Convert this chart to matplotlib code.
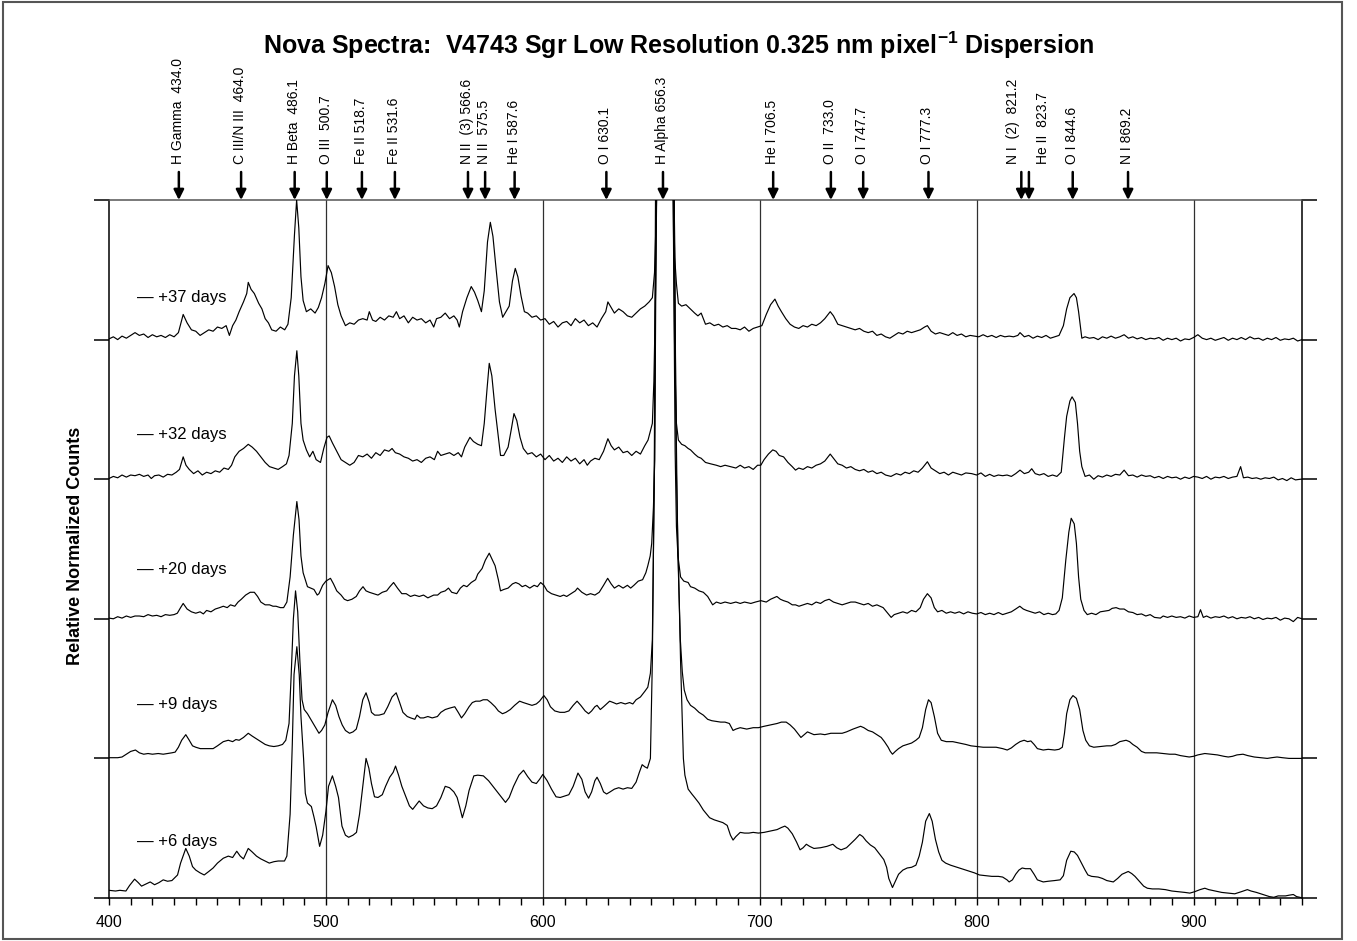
import numpy as np
import matplotlib
matplotlib.use("Agg")
import matplotlib.pyplot as plt
from matplotlib.patches import Rectangle
from matplotlib.ticker import MultipleLocator, FixedLocator, NullFormatter
import matplotlib.transforms as mtransforms

plt.rcParams['font.family'] = ['Liberation Sans', 'DejaVu Sans']
plt.rcParams['mathtext.fontset'] = 'custom'
plt.rcParams['mathtext.rm'] = 'Liberation Sans'
plt.rcParams['mathtext.bf'] = 'Liberation Sans:bold'

# ---------------- data ----------------
epochs = ['+37 days', '+32 days', '+20 days', '+9 days', '+6 days']

line_names = ['H Gamma  434.0', 'C III/N III  464.0', 'H Beta  486.1', 'O III  500.7',
              'Fe II 518.7', 'Fe II 531.6', 'N II  (3) 566.6', 'N II  575.5', 'He I 587.6',
              'O I 630.1', 'H Alpha 656.3', 'He I 706.5', 'O II  733.0', 'O I 747.7',
              'O I 777.3', 'N I  (2)  821.2', 'He II  823.7', 'O I 844.6', 'N I 869.2']
# wavelengths at which the marker arrows are drawn
arrow_wl = [432.2, 460.9, 485.6, 500.4, 516.6, 531.8, 565.5, 573.4, 587.0, 629.3, 655.4,
            706.2, 732.8, 747.7, 777.8, 820.6, 824.1, 844.3, 869.8]

x_ticks = [400, 500, 600, 700, 800, 900]

# spectra: (wavelength nm, relative counts above each trace's baseline)
spec_37 = [(400,0.005),(402,0.02),(404,0.0),(406,0.025),(408,0.01),(410,0.03),(412,0.05),(414,0.03),
 (416,0.04),(418,0.015),(420,0.035),(422,0.02),(424,0.03),(426,0.015),(428,0.035),(430,0.02),(432,0.05),
 (434.2,0.18),(436,0.12),(438,0.07),(440,0.06),(442,0.03),(444,0.05),(446,0.07),(448,0.06),(450,0.09),
 (452,0.08),(454,0.1),(455.5,0.03),(457,0.1),(458.5,0.14),(460,0.2),(462,0.27),(463.5,0.33),(464.2,0.41),
 (465.5,0.36),(467,0.33),(469,0.26),(470.5,0.22),(472,0.15),(473.5,0.12),(475,0.07),(477,0.06),(479,0.09),
 (481,0.07),(482.5,0.11),(484,0.3),(485.5,0.75),(486.5,1.0),(487.5,0.8),(488.5,0.45),(489.5,0.28),(491,0.2),
 (493,0.22),(495,0.19),(496.5,0.23),(498,0.3),(499.5,0.4),(501,0.53),(502.5,0.48),(504,0.38),(505.5,0.25),
 (507,0.17),(509,0.1),(511,0.12),(513,0.11),(515,0.14),(517,0.15),(519,0.14),(520,0.2),(521.5,0.14),
 (523,0.13),(525,0.16),(527,0.14),(529,0.17),(531,0.16),(532.5,0.2),(534,0.15),(536,0.17),(538,0.12),
 (540,0.16),(542,0.14),(544,0.15),(546,0.12),(548,0.14),(549.7,0.09),(551,0.15),(553,0.16),(555,0.19),
 (557,0.15),(559,0.17),(560.5,0.14),(561.5,0.09),(563,0.2),(565,0.3),(567,0.38),(568.5,0.34),(570,0.28),
 (571.7,0.2),(573,0.35),(574.5,0.7),(575.8,0.84),(577,0.74),(578.5,0.5),(580,0.27),(581.5,0.16),(583,0.2),
 (584.5,0.24),(586,0.42),(587.3,0.51),(588.5,0.45),(590,0.31),(591.5,0.2),(593,0.19),(595,0.16),(597,0.17),
 (599,0.14),(601,0.15),(603,0.11),(605,0.13),(607,0.09),(609,0.12),(611,0.13),(613,0.1),(615,0.15),
 (617,0.12),(619,0.14),(621,0.1),(623,0.12),(625,0.09),(627,0.15),(629,0.2),(630,0.27),(631.5,0.23),
 (633,0.19),(635,0.22),(637,0.2),(639,0.17),(641,0.16),(643,0.19),(645,0.22),(647,0.24),(649,0.27),
 (650.5,0.3),(651.5,0.48),(652.3,0.9),(653.2,1.6),(654.5,3.0),(656.3,6.0),(658,3.0),(659.5,1.6),
 (660.3,1.0),(660.8,0.59),(661.6,0.4),(662.5,0.26),(664,0.24),(666,0.25),(668,0.22),(670,0.19),
 (671.5,0.17),(673,0.19),(675,0.11),(677,0.12),(679,0.1),(681,0.11),(683,0.09),(685,0.1),(687,0.08),
 (689,0.08),(691,0.07),(693,0.09),(695,0.06),(697,0.08),(699,0.09),(701,0.1),(703,0.18),(705,0.25),
 (707,0.29),(708.5,0.24),(710,0.2),(712,0.15),(714,0.11),(716,0.09),(718,0.08),(720,0.1),(722,0.09),
 (724,0.11),(726,0.1),(728,0.12),(730,0.15),(732.5,0.2),(734,0.17),(736,0.11),(738,0.1),(740,0.09),
 (742,0.08),(744,0.07),(746,0.08),(748,0.06),(750,0.05),(752,0.06),(754,0.03),(756,0.04),(758,0.02),
 (760,0.01),(762,0.03),(764,0.05),(766,0.04),(768,0.06),(770,0.05),(772,0.06),(774,0.07),(776,0.09),
 (777.3,0.1),(779,0.06),(781,0.04),(783,0.05),(785,0.04),(787,0.03),(789,0.05),(791,0.03),(793,0.04),
 (795,0.02),(797,0.03),(799,0.025),(801,0.02),(803,0.035),(805,0.02),(807,0.03),(809,0.015),(811,0.03),
 (813,0.02),(815,0.025),(817,0.02),(819,0.03),(820,0.05),(822,0.02),(824,0.03),(826,0.01),(828,0.025),
 (830,0.015),(832,0.03),(834,0.01),(836,0.02),(838,0.03),(840,0.1),(841.5,0.22),(843,0.3),(844.9,0.33),
 (846,0.3),(847,0.2),(848.5,0.01),(850,0.02),(852,0.01),(854,0.015),(856,0.0),(858,0.02),(860,0.01),
 (862,0.025),(864,0.01),(866,0.02),(868,0.035),(870,0.01),(872,0.02),(874,0.005),(876,0.015),(878,0.0),
 (880,0.01),(882,0.005),(884,0.015),(886,-0.005),(888,0.01),(890,0.0),(892,0.01),(894,-0.01),(896,0.005),
 (898,0.0),(900,0.015),(902,0.035),(904,0.01),(906,0.0),(908,0.01),(910,-0.005),(912,0.005),(914,0.015),
 (916,-0.005),(918,0.01),(920,0.0),(922,0.015),(924,0.0),(926,0.02),(928,0.005),(930,0.01),(932,-0.005),
 (934,0.01),(936,0.0),(938,0.015),(940,-0.005),(942,0.005),(944,0.0),(946,0.01),(948,-0.01),(950,0.0)]

spec_32 = [(400,0.005),(402,0.02),(404,0.01),(406,0.03),(408,0.015),(410,0.03),(412,0.025),(414,0.035),
 (416,0.02),(418,0.03),(419.5,0.005),(421,0.025),(423,0.03),(425,0.015),(427,0.035),(429,0.03),(431,0.05),
 (432.5,0.07),(434.2,0.16),(435.5,0.1),(437,0.07),(439,0.04),(441,0.06),(443,0.03),(445,0.05),(447,0.04),
 (449,0.06),(451,0.05),(453,0.08),(455,0.07),(456.5,0.1),(458,0.16),(460,0.2),(462,0.22),(464.2,0.25),
 (466,0.23),(468,0.2),(470,0.16),(472,0.12),(474,0.09),(476,0.08),(478,0.07),(480,0.09),(481.8,0.11),
 (483,0.17),(484.5,0.4),(485.5,0.74),(486.6,0.92),(487.5,0.74),(488.5,0.4),(489.5,0.28),(491,0.21),
 (492.5,0.16),(494,0.2),(495.5,0.14),(497.5,0.12),(499,0.22),(500.5,0.3),(501.5,0.31),(503,0.26),(505,0.2),
 (507,0.14),(509,0.12),(511,0.1),(513,0.12),(515,0.17),(517,0.16),(519,0.18),(521,0.15),(523,0.19),
 (525,0.17),(527,0.21),(529,0.2),(530.5,0.22),(532,0.19),(534,0.18),(536,0.16),(538,0.15),(540,0.13),
 (542,0.14),(544,0.12),(546,0.15),(548,0.16),(550,0.14),(551.5,0.2),(553,0.17),(555,0.18),(557,0.19),
 (559,0.17),(561,0.19),(562.5,0.16),(564,0.23),(566.4,0.3),(568,0.27),(570,0.25),(571.7,0.24),(573,0.4),
 (574.3,0.65),(575.3,0.83),(576.5,0.74),(578,0.5),(579.5,0.3),(580.5,0.17),(582,0.17),(584,0.23),
 (585.5,0.36),(586.7,0.47),(588,0.42),(589.5,0.3),(591,0.22),(593,0.18),(595,0.19),(597,0.16),(599,0.18),
 (601,0.14),(603,0.17),(605,0.13),(607,0.15),(609,0.12),(611,0.16),(613,0.13),(615,0.15),(617,0.11),
 (619,0.14),(620.5,0.1),(622,0.13),(624,0.15),(626,0.14),(628,0.2),(630,0.29),(631.5,0.24),(633,0.21),
 (635,0.23),(637,0.19),(639,0.2),(641,0.17),(643,0.2),(645,0.18),(647,0.24),(648.5,0.28),(650.5,0.4),
 (651.2,0.7),(652,1.35),(652.6,2.2),(654,5.0),(656.3,8.0),(658.5,5.0),(660,2.2),(660.8,0.88),(661.6,0.4),
 (662.5,0.28),(664,0.25),(665.5,0.24),(667,0.22),(668.1,0.21),(670,0.18),(671.5,0.16),(673,0.15),
 (675,0.12),(677.4,0.11),(680,0.1),(682,0.09),(684,0.1),(686.6,0.09),(689,0.08),(691,0.1),(693,0.08),
 (695,0.09),(697,0.07),(699,0.1),(700.5,0.1),(702,0.14),(704,0.18),(706,0.21),(707.5,0.2),(709,0.17),
 (711,0.16),(713,0.12),(715,0.09),(716.5,0.065),(718,0.08),(720,0.07),(722,0.09),(724,0.08),(726,0.1),
 (728,0.11),(730,0.13),(732.5,0.18),(734,0.15),(736,0.11),(738,0.1),(740,0.08),(742,0.09),(744,0.07),
 (746,0.06),(748,0.07),(750,0.05),(752,0.06),(754,0.04),(756,0.05),(758,0.03),(760.5,0.02),(763,0.04),
 (765,0.03),(767,0.05),(769,0.04),(771,0.06),(773,0.05),(775,0.08),(777.3,0.125),(779,0.08),(781,0.06),
 (783,0.04),(785,0.05),(787,0.03),(789,0.05),(791,0.04),(793,0.03),(795,0.045),(797.7,0.04),(800,0.03),
 (802,0.045),(804,0.02),(806,0.035),(808,0.02),(810,0.03),(812,0.025),(814,0.03),(816,0.02),(818,0.04),
 (820,0.065),(822,0.04),(824,0.05),(825.4,0.075),(827,0.04),(829,0.03),(831,0.04),(833,0.02),(835,0.03),
 (837,0.02),(839,0.05),(840.5,0.3),(841.5,0.45),(843,0.56),(844,0.59),(845.5,0.55),(846.5,0.4),
 (847.5,0.2),(848.5,0.09),(850,0.02),(852,0.03),(854,0.0),(856,0.025),(858,0.015),(860,0.03),(862,0.02),
 (864,0.035),(866,0.03),(868,0.065),(870,0.025),(872,0.03),(874,0.015),(876,0.03),(878,0.02),(880,0.025),
 (882,0.01),(884,0.02),(886,0.005),(888,0.02),(890,0.01),(892,0.015),(894,0.0),(896,0.015),(898,0.005),
 (900,0.02),(902,0.015),(904,0.005),(906,0.02),(908,0.0),(910,0.015),(912,0.01),(914,0.02),(916,0.005),
 (918,0.015),(920,0.02),(921.7,0.09),(923,0.01),(925,0.015),(927,0.005),(929,0.01),(931,0.0),(933,0.01),
 (935,0.005),(937,0.015),(939,-0.005),(941,0.005),(943,-0.01),(945,0.01),(947,-0.005),(949.4,0.0),(950,0.0)]

spec_20 = [(400,0.005),(402,0.0),(404,0.015),(406,0.005),(408,0.02),(410,0.01),(412,0.02),(414,0.02),
 (416,0.015),(418,0.03),(420,0.02),(422,0.025),(424,0.015),(426,0.03),(428,0.025),(430,0.03),(431.5,0.04),
 (433,0.08),(434.2,0.11),(436,0.07),(438,0.05),(440,0.04),(442,0.05),(443.5,0.035),(445,0.06),(447,0.05),
 (449,0.07),(451,0.08),(452.7,0.09),(454.5,0.08),(456,0.1),(458,0.09),(459.5,0.12),(461,0.14),(463,0.17),
 (465.1,0.19),(467,0.19),(468.5,0.16),(470,0.12),(472,0.1),(474,0.1),(475.6,0.09),(477,0.09),(479,0.08),
 (480.5,0.08),(482,0.12),(483.5,0.3),(485,0.6),(486.6,0.84),(487.6,0.71),(488.5,0.45),(489.5,0.33),
 (491.5,0.23),(493,0.22),(494.5,0.21),(496,0.17),(496.8,0.18),(498.5,0.24),(500,0.27),(502.1,0.29),
 (503.5,0.25),(505,0.2),(507,0.17),(508.5,0.14),(510,0.13),(512,0.14),(514,0.16),(515.5,0.2),(517.1,0.23),
 (518.5,0.2),(520,0.19),(522,0.18),(524,0.17),(526,0.19),(528,0.2),(529.5,0.23),(531.2,0.26),(533,0.22),
 (535,0.18),(537,0.18),(539,0.16),(540.9,0.17),(543,0.16),(545,0.17),(547,0.15),(549.7,0.17),(551.5,0.17),
 (553,0.19),(555,0.2),(556.5,0.22),(558,0.19),(560.3,0.18),(562,0.22),(563.5,0.24),(565,0.23),(567,0.26),
 (569,0.28),(570,0.32),(572,0.36),(573.5,0.42),(575.3,0.47),(576.5,0.43),(578,0.38),(579.5,0.28),
 (580.5,0.2),(582,0.21),(584,0.22),(586,0.25),(587.5,0.26),(589,0.25),(590.5,0.23),(592,0.24),(594,0.22),
 (596,0.24),(597.5,0.23),(599,0.26),(600.5,0.24),(602,0.2),(604,0.18),(606,0.17),(608,0.16),(609.6,0.17),
 (611,0.16),(613,0.18),(615,0.2),(616,0.22),(618,0.19),(620.2,0.17),(622,0.18),(624,0.17),(626,0.19),
 (628,0.24),(629.9,0.29),(631.5,0.25),(633,0.22),(635,0.24),(637,0.22),(639,0.24),(640.5,0.22),(642,0.24),
 (644,0.27),(646,0.28),(647.5,0.33),(648.4,0.38),(649.5,0.45),(650.2,0.54),(651,0.8),(651.6,1.14),
 (652.4,3.2),(654,6.0),(656.3,9.0),(658.5,6.0),(660,3.2),(661,1.2),(661.6,0.66),(662.3,0.45),(663.5,0.3),
 (665,0.27),(667,0.26),(668.1,0.23),(670,0.22),(672,0.2),(674,0.19),(676,0.16),(678.3,0.1),(680,0.12),
 (682,0.11),(684,0.12),(686.6,0.11),(689,0.12),(691,0.11),(693,0.12),(695.9,0.11),(698,0.12),(700.5,0.13),
 (703,0.12),(705,0.14),(707.9,0.16),(709.5,0.14),(711,0.13),(713,0.12),(715,0.1),(716.5,0.1),(718.1,0.09),
 (720,0.1),(722,0.11),(724,0.1),(726,0.12),(728,0.11),(730,0.13),(732,0.14),(734,0.12),(736,0.11),
 (738,0.1),(740,0.11),(742,0.12),(744,0.12),(746,0.11),(748,0.1),(750,0.11),(752,0.09),(754,0.1),
 (756.9,0.08),(758.5,0.05),(760.6,0.01),(762,0.03),(764,0.04),(766,0.05),(768,0.04),(770,0.06),(772,0.05),
 (774,0.08),(775.5,0.14),(777.3,0.18),(779,0.15),(780.5,0.08),(782,0.05),(784,0.06),(786,0.04),(788,0.05),
 (790,0.04),(792,0.05),(794,0.035),(796,0.05),(798,0.04),(800,0.035),(802,0.045),(804,0.03),(806,0.04),
 (808,0.03),(810,0.045),(812,0.03),(814,0.04),(816,0.05),(818,0.07),(819.9,0.09),(821.5,0.07),(823,0.06),
 (825,0.05),(827,0.04),(829,0.05),(831,0.03),(833,0.04),(835,0.03),(836.5,0.035),(838,0.06),(839.5,0.15),
 (841.1,0.42),(842.5,0.62),(843.6,0.72),(845,0.68),(846,0.54),(847,0.3),(848,0.14),(849.5,0.06),(851,0.03),
 (853,0.04),(855,0.03),(857,0.05),(859,0.055),(861,0.06),(862.5,0.075),(864.3,0.08),(866,0.07),(868,0.07),
 (870,0.05),(872,0.045),(874,0.03),(876,0.035),(878,0.02),(880,0.03),(882,0.01),(884.7,0.005),(886,0.02),
 (888,0.01),(890,0.02),(892,0.01),(894,0.015),(896,0.005),(898,0.02),(900,0.01),(902,0.015),(903.2,0.065),
 (904.5,0.01),(906,0.02),(908,0.005),(910,0.015),(912,0.01),(914,0.02),(916,0.005),(918,0.015),(920,0.0),
 (922,0.01),(924,0.005),(926,0.015),(928,0.0),(930,0.01),(932,-0.005),(934,0.005),(936,0.0),(938,0.01),
 (940,-0.01),(942,0.005),(944,0.0),(946,-0.02),(948,0.01),(950,0.0)]

spec_9 = [(400,0.005),(404,0.005),(406,0.01),(408,0.03),(410,0.05),(412.2,0.06),(414,0.04),(416,0.03),
 (418,0.035),(420,0.03),(422.7,0.035),(425,0.03),(427,0.035),(429,0.04),(430.5,0.045),(432,0.08),
 (433.5,0.13),(435.4,0.17),(437,0.13),(438.5,0.09),(440,0.08),(442.1,0.07),(445,0.07),(448,0.07),(450,0.09),
 (452.7,0.12),(455,0.13),(457,0.12),(458.5,0.135),(460,0.13),(462,0.15),(464.2,0.18),(466,0.16),(468,0.14),
 (470,0.12),(472,0.1),(473.9,0.09),(476,0.085),(478,0.09),(480,0.1),(481.5,0.13),(483,0.25),(484,0.6),
 (485,1.0),(486,1.2),(487,1.05),(488,0.7),(489,0.42),(490,0.35),(491.5,0.32),(493,0.28),(494.5,0.24),
 (496,0.2),(496.8,0.18),(498,0.2),(499.5,0.24),(501,0.33),(503,0.42),(504.5,0.38),(506,0.3),(507.5,0.24),
 (509,0.2),(510.9,0.18),(512.5,0.19),(514,0.21),(515.5,0.3),(517,0.42),(518.5,0.47),(520,0.4),(521,0.33),
 (522.5,0.31),(524.5,0.31),(526.8,0.32),(528.5,0.37),(530.5,0.44),(532.4,0.47),(534,0.4),(535.5,0.33),
 (537.5,0.3),(539.1,0.29),(541,0.28),(542,0.31),(543.5,0.29),(545,0.29),(547,0.3),(549,0.29),(551.4,0.3),
 (553,0.33),(555,0.35),(557,0.36),(559.4,0.37),(561,0.33),(562.5,0.29),(564,0.32),(566,0.37),(567.5,0.4),
 (569.1,0.41),(571,0.41),(572.5,0.42),(574.4,0.42),(576,0.4),(578,0.37),(579.5,0.34),(581.4,0.32),
 (583,0.33),(585,0.35),(587,0.38),(589.3,0.41),(591,0.4),(593,0.39),(595,0.38),(597,0.39),(598.5,0.41),
 (600.5,0.45),(602,0.42),(603.5,0.37),(605.5,0.34),(607.9,0.33),(610,0.33),(612,0.34),(614,0.38),
 (615.8,0.41),(617.5,0.38),(619.5,0.34),(621.1,0.32),(622.5,0.34),(624,0.37),(625,0.38),(626.5,0.35),
 (628,0.37),(630.8,0.41),(632.5,0.4),(634,0.39),(636,0.4),(638,0.39),(640,0.4),(641.5,0.39),(643,0.42),
 (645,0.44),(647,0.48),(648.4,0.51),(649.6,0.61),(650.5,0.85),(651.5,2.14),(652.2,4.2),(653.5,7.0),
 (656.3,10.0),(659,7.0),(660.5,4.2),(661.3,2.6),(662.2,1.5),(663.4,0.85),(664.3,0.62),(665.2,0.49),
 (666.5,0.42),(668.1,0.38),(670,0.36),(672,0.33),(674,0.31),(676,0.28),(677.9,0.27),(680,0.265),(682,0.26),
 (684,0.26),(686,0.25),(687.7,0.2),(689,0.21),(691,0.22),(694,0.21),(697,0.22),(699.4,0.22),(702,0.23),
 (705,0.24),(708,0.25),(710,0.26),(712.2,0.26),(714,0.24),(716,0.21),(718,0.17),(719,0.15),(720.5,0.17),
 (722,0.19),(723.5,0.18),(725,0.17),(728,0.175),(730,0.17),(732.8,0.18),(735,0.18),(738,0.18),(740,0.19),
 (743,0.21),(746.5,0.23),(748,0.22),(750,0.2),(752,0.19),(754,0.17),(756,0.15),(757.5,0.12),(759.2,0.08),
 (760.2,0.05),(761.2,0.03),(762.5,0.05),(764,0.07),(766,0.09),(768,0.1),(770,0.11),(772,0.13),(773.5,0.15),
 (775,0.22),(776.5,0.35),(777.8,0.42),(779,0.4),(780.5,0.3),(782,0.18),(783.7,0.13),(786,0.12),(789,0.12),
 (792,0.11),(795,0.1),(797.4,0.09),(800,0.085),(803,0.08),(806,0.08),(809,0.08),(812,0.07),(814.1,0.06),
 (816,0.075),(818,0.1),(820,0.12),(821.9,0.13),(823.5,0.12),(825,0.125),(826.5,0.1),(828,0.07),
 (830.7,0.06),(833,0.065),(836,0.06),(838,0.065),(839.5,0.08),(840.5,0.18),(841.5,0.32),(843,0.42),
 (844.4,0.45),(846,0.43),(847.5,0.35),(849,0.2),(850.3,0.13),(852,0.09),(854,0.08),(857,0.085),(860,0.09),
 (862.1,0.09),(864,0.1),(866,0.12),(868.9,0.13),(870.5,0.12),(872,0.1),(874,0.08),(876,0.05),(877.7,0.04),
 (880,0.04),(883,0.04),(886,0.035),(889,0.03),(891.5,0.03),(894,0.02),(896,0.015),(898,0.01),(900,0.015),
 (902,0.025),(905.2,0.035),(908,0.03),(911,0.025),(914,0.015),(916,0.01),(918,0.015),(920,0.025),
 (922.8,0.03),(925,0.02),(928,0.01),(931,0.005),(934,0.0),(936,0.005),(938.5,0.01),(941,0.005),(944,0.0),
 (947,0.0),(950,0.0)]

spec_6 = [(400,0.055),(403,0.05),(405,0.055),(407.8,0.05),(409.5,0.09),(411.8,0.135),(413.5,0.11),
 (415,0.085),(417,0.1),(419,0.115),(421,0.095),(423,0.11),(425,0.13),(427,0.12),(429,0.125),(431.6,0.165),
 (433,0.25),(435.4,0.355),(437,0.3),(438.5,0.225),(440,0.2),(442,0.18),(443.9,0.165),(446,0.19),
 (448,0.215),(450,0.25),(452.7,0.285),(455,0.3),(457,0.29),(458.9,0.335),(460.5,0.3),(462,0.28),
 (464.2,0.355),(466,0.33),(468,0.3),(470,0.28),(472,0.265),(473.9,0.25),(476,0.26),(478,0.265),
 (480.9,0.265),(482,0.3),(483.5,0.6),(484.5,1.1),(485.3,1.6),(486.6,1.8),(487.7,1.6),(488.5,1.3),
 (489.7,1.0),(490.5,0.75),(491.5,0.68),(493.3,0.655),(494.5,0.58),(495.5,0.51),(497.1,0.37),(498.5,0.45),
 (500,0.62),(501.2,0.8),(503,0.875),(504.5,0.8),(505.8,0.72),(507.4,0.515),(509,0.45),(510.5,0.435),
 (512.5,0.45),(514.1,0.47),(515.5,0.6),(517,0.8),(518.5,1.0),(519.8,0.93),(521,0.82),(522.4,0.725),
 (524,0.72),(526,0.74),(527.5,0.8),(529.4,0.865),(531,0.9),(532.1,0.945),(533.5,0.88),(535,0.8),(537,0.72),
 (538.5,0.66),(540,0.635),(541.5,0.665),(543,0.695),(545,0.66),(547,0.645),(549,0.64),(551,0.66),
 (553,0.72),(555,0.8),(557,0.79),(559,0.76),(560.5,0.72),(561.7,0.65),(562.9,0.575),(564.5,0.66),
 (566,0.77),(568.2,0.875),(570,0.88),(572.6,0.875),(575,0.84),(577.5,0.79),(580,0.74),(582.8,0.685),
 (584.5,0.72),(586.5,0.8),(589,0.88),(591.1,0.915),(593,0.87),(595,0.83),(597,0.82),(598.5,0.85),
 (600,0.885),(602,0.84),(604,0.78),(606.1,0.725),(608,0.72),(610,0.73),(612,0.74),(614,0.8),(616.2,0.895),
 (618,0.85),(619.5,0.76),(621.1,0.715),(622.5,0.76),(624,0.84),(625,0.865),(626.5,0.82),(628,0.76),
 (629.4,0.745),(631,0.76),(633,0.78),(635,0.79),(637,0.78),(639,0.79),(641,0.785),(643,0.83),(644.5,0.9),
 (645.8,0.955),(647,0.94),(648.2,0.93),(649.6,1.0),(650.5,1.7),(651.4,3.1),(652,5.2),(653.5,8.0),
 (656.3,11.0),(659,8.0),(660.5,5.2),(661.5,3.1),(663.5,1.7),(664.8,1.0),(665.5,0.88),(667,0.78),
 (668.7,0.745),(670,0.72),(672,0.68),(674,0.63),(676.9,0.575),(679,0.56),(681,0.55),(683,0.54),(685,0.52),
 (686.5,0.45),(687.7,0.415),(689,0.44),(691,0.47),(693,0.465),(695,0.465),(697,0.47),(699.4,0.465),
 (702,0.47),(705,0.48),(708,0.49),(710,0.505),(711.6,0.515),(713,0.5),(715,0.46),(717,0.4),(718.6,0.345),
 (720,0.36),(721.5,0.385),(723,0.37),(725,0.355),(728,0.36),(731,0.37),(733.7,0.385),(735.5,0.36),
 (737.5,0.345),(740,0.36),(742,0.39),(744,0.42),(746.1,0.455),(747.5,0.44),(749,0.41),(751,0.38),
 (753,0.36),(755,0.32),(757.2,0.275),(758.5,0.22),(759.5,0.14),(761.2,0.075),(762.5,0.12),(764,0.17),
 (766,0.2),(768,0.215),(770,0.22),(772,0.235),(773.5,0.3),(775,0.4),(776.5,0.55),(778.2,0.605),
 (779.5,0.55),(781,0.42),(782.5,0.33),(784,0.27),(785.7,0.25),(788,0.235),(791,0.22),(794,0.205),
 (797,0.19),(799,0.18),(801.3,0.165),(804,0.16),(807,0.155),(810,0.155),(812,0.15),(814,0.13),(815,0.115),
 (816.5,0.13),(818,0.17),(819.5,0.2),(821,0.215),(822.5,0.21),(824.8,0.21),(826.5,0.17),(828,0.13),
 (830.7,0.115),(833,0.12),(836,0.125),(838.5,0.13),(840,0.16),(841.5,0.27),(843.4,0.335),(845,0.33),
 (846.5,0.305),(848,0.26),(850,0.2),(851.3,0.165),(853,0.155),(856,0.15),(858,0.14),(860,0.125),
 (863,0.115),(865,0.14),(867,0.17),(869.9,0.19),(871.5,0.175),(873,0.155),(875,0.12),(877,0.085),
 (878.7,0.07),(881,0.065),(884,0.065),(887,0.06),(890,0.05),(893,0.045),(896,0.04),(898.3,0.035),
 (900.5,0.045),(903,0.06),(905.2,0.07),(907,0.06),(910,0.05),(913,0.04),(916,0.035),(919,0.03),
 (922,0.045),(924.8,0.06),(926.5,0.05),(929,0.04),(932,0.025),(935,0.01),(937,0.005),(939,0.015),
 (942.4,0.015),(944,0.02),(946,0.025),(947.5,0.01),(949,0.005),(950,0.0)]

spectra = [spec_37, spec_32, spec_20, spec_9, spec_6]
baselines = [4, 3, 2, 1, 0]           # vertical stacking position of each trace
label_offsets = [0.266, 0.29, 0.324, 0.357, 0.376]

# ---------------- figure ----------------
W, H = 1357, 941
fig = plt.figure(figsize=(W / 100, H / 100), dpi=100)
ax_l, ax_r, ax_t, ax_b = 109, 1302, 200, 898
ax = fig.add_axes([ax_l / W, (H - ax_b) / H, (ax_r - ax_l) / W, (ax_b - ax_t) / H])

ax.set_xlim(400, 950)
ax.set_ylim(0, 5)

for xv in [500, 600, 700, 800, 900]:
    ax.axvline(xv, color='#303030', lw=0.9, zorder=1)

for spec, base in zip(spectra, baselines):
    arr = np.array(spec)
    ax.plot(arr[:, 0], arr[:, 1] + base, color='black', lw=0.85, zorder=3)

for name, base, off in zip(epochs, baselines, label_offsets):
    ax.text(412.8, base + off, '\u2014 ' + name, fontsize=12, ha='left', va='baseline', zorder=4)

# axes styling
ax.xaxis.set_major_locator(FixedLocator(x_ticks))
ax.xaxis.set_minor_locator(MultipleLocator(10))
ax.tick_params(axis='x', which='both', direction='out', length=5, width=1, labelsize=11.5, pad=7.5)
ax.set_yticks([0, 1, 2, 3, 4, 5])
ax.yaxis.set_major_formatter(NullFormatter())
ax.tick_params(axis='y', which='major', direction='out', length=11, width=1.1,
               left=True, right=True, labelleft=False)
for s in ['left', 'right', 'bottom']:
    ax.spines[s].set_color('black')
    ax.spines[s].set_linewidth(1.1)
ax.spines['top'].set_color('#555555')
ax.spines['top'].set_linewidth(1.1)

# line identification arrows and labels
trans = mtransforms.blended_transform_factory(ax.transData, ax.transAxes)
arrow_top = 1 + 28 / (ax_b - ax_t)
label_bottom = 1 + 36 / (ax_b - ax_t)
label_shift_px = {'N I  (2)  821.2': -8, 'He II  823.7': 14}
for name, wl in zip(line_names, arrow_wl):
    ax.annotate('', xy=(wl, 1.0), xycoords=trans, xytext=(wl, arrow_top), textcoords=trans,
                arrowprops=dict(arrowstyle='-|>,head_length=0.6,head_width=0.3', lw=1.8,
                                color='black', shrinkA=0, shrinkB=0), annotation_clip=False)
    dx = label_shift_px.get(name, -1)
    t = trans + mtransforms.ScaledTranslation(dx / 100, 0, fig.dpi_scale_trans)
    ax.text(wl, label_bottom, name, transform=t, rotation=90, ha='center', va='bottom',
            fontsize=10, clip_on=False)

fig.text(0.5, 1 - 45 / H,
         r'Nova Spectra:  V4743 Sgr Low Resolution 0.325 nm pixel$^{\mathbf{-1}}$ Dispersion',
         ha='center', va='center', fontsize=18, fontweight='bold')
fig.text(75 / W, 1 - 545.5 / H, 'Relative Normalized Counts', rotation=90, ha='center',
         va='center', fontsize=13, fontweight='bold')

fig.add_artist(Rectangle((3 / W, 2 / H), 1339 / W, 937 / H, transform=fig.transFigure,
                         fill=False, ec='#555555', lw=1.5))

fig.savefig('out.png', dpi=100)
